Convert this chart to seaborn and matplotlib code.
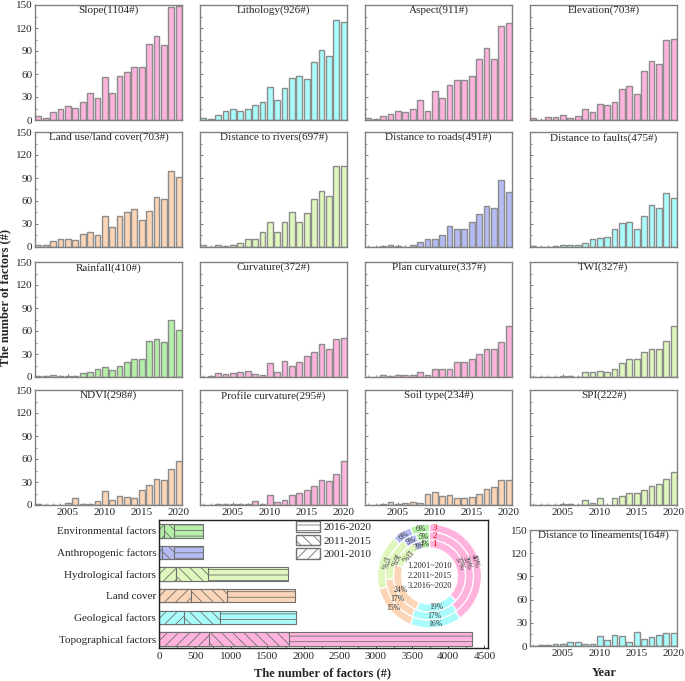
import numpy as np
import pandas as pd
import matplotlib.pyplot as plt
from matplotlib.patches import Patch
from matplotlib.ticker import MultipleLocator
import seaborn as sns

sns.set_style('ticks')
plt.rcParams['font.family'] = ['Liberation Serif', 'DejaVu Serif']
plt.rcParams['hatch.linewidth'] = 0.6
plt.rcParams['xtick.direction'] = 'in'
plt.rcParams['ytick.direction'] = 'in'

pink = '#ffb3dd'
cyan = '#aafcfc'
peach = '#fbd5b5'
lime = '#dff6bc'
green = '#b6f0a8'
blue = '#b5bcf4'

years = list(range(2001, 2021))

slope = [5, 2, 10, 14, 18, 16, 23, 35, 29, 56, 35, 58, 63, 69, 69, 99, 109, 98, 147, 149]
lithology = [3, 1, 7, 12, 14, 12, 14, 19, 24, 43, 26, 42, 55, 57, 54, 75, 91, 83, 130, 128]
aspect = [2, 1, 5, 8, 12, 11, 15, 26, 12, 38, 29, 46, 52, 52, 58, 80, 94, 79, 122, 126]
elevation = [2, 0, 4, 4, 7, 3, 5, 15, 11, 21, 19, 24, 41, 45, 34, 64, 77, 73, 105, 106]
landuse = [2, 2, 8, 10, 11, 9, 17, 20, 15, 41, 26, 40, 45, 50, 35, 47, 65, 63, 99, 91]
rivers = [3, 0, 2, 1, 3, 5, 11, 11, 19, 32, 19, 32, 45, 33, 44, 62, 73, 67, 105, 105]
roads = [0, 0, 1, 3, 1, 0, 3, 6, 11, 10, 15, 28, 24, 24, 33, 43, 53, 51, 88, 72]
faults = [1, 0, 0, 1, 2, 2, 3, 5, 11, 12, 13, 23, 31, 32, 23, 41, 55, 51, 70, 64]
rainfall = [1, 1, 2, 1, 1, 1, 5, 6, 10, 13, 9, 14, 19, 24, 23, 47, 50, 46, 74, 61]
curvature = [0, 1, 5, 4, 5, 6, 8, 4, 2, 18, 7, 21, 14, 19, 28, 33, 43, 36, 49, 51]
plan_curv = [0, 0, 2, 1, 3, 3, 3, 6, 3, 11, 10, 11, 19, 19, 23, 30, 37, 36, 46, 66]
twi = [0, 0, 0, 0, 1, 1, 0, 6, 6, 8, 7, 11, 18, 23, 23, 33, 37, 36, 47, 66]
ndvi = [1, 0, 0, 0, 3, 9, 1, 1, 5, 18, 7, 12, 10, 9, 20, 26, 34, 33, 47, 58]
profile_curv = [0, 0, 1, 1, 1, 1, 1, 5, 1, 13, 4, 6, 13, 16, 19, 25, 32, 31, 40, 58]
soil = [0, 0, 1, 4, 1, 3, 4, 3, 14, 17, 12, 13, 9, 9, 10, 14, 21, 24, 32, 33]
spi = [0, 0, 0, 0, 1, 1, 0, 6, 3, 9, 0, 9, 12, 16, 16, 19, 25, 27, 34, 43]
lineaments = [0, 1, 1, 3, 3, 5, 5, 3, 3, 13, 8, 14, 13, 5, 18, 9, 11, 14, 17, 17]

panels = [
    ('Slope(1104#)', slope, pink), ('Lithology(926#)', lithology, cyan),
    ('Aspect(911#)', aspect, pink), ('Elevation(703#)', elevation, pink),
    ('Land use/land cover(703#)', landuse, peach), ('Distance to rivers(697#)', rivers, lime),
    ('Distance to roads(491#)', roads, blue), ('Distance to faults(475#)', faults, cyan),
    ('Rainfall(410#)', rainfall, green), ('Curvature(372#)', curvature, pink),
    ('Plan curvature(337#)', plan_curv, pink), ('TWI(327#)', twi, lime),
    ('NDVI(298#)', ndvi, peach), ('Profile curvature(295#)', profile_curv, pink),
    ('Soil type(234#)', soil, peach), ('SPI(222#)', spi, lime),
]

# factor groups (stacked bars), bottom panel
groups = ['Environmental factors', 'Anthropogenic factors', 'Hydrological factors',
          'Land cover', 'Geological factors', 'Topographical factors']
group_colors = [green, blue, lime, peach, cyan, pink]
n_2001_2010 = [65, 41, 231, 447, 345, 690]
n_2011_2015 = [142, 166, 446, 492, 503, 1106]
n_2016_2020 = [401, 401, 1101, 936, 1040, 2527]

# donut shares (%), order: topo, geo, land, hydro, anthro, env
donut_colors = [pink, cyan, peach, lime, blue, green]
pct_2001_2010 = [37, 19, 24, 13, 3, 4]
pct_2011_2015 = [39, 17, 17, 16, 5, 5]
pct_2016_2020 = [40, 16, 15, 17, 6, 6]

W, H = 685, 681
fig = plt.figure(figsize=(W / 100, H / 100), dpi=100)


def px_axes(l, t, r, b):
    return fig.add_axes([l / W, 1 - b / H, (r - l) / W, (b - t) / H])


def year_panel(ax, vals, color, title, ylab=True, xlab=True):
    sns.barplot(x=years, y=vals, native_scale=True, color=color, saturation=1,
                edgecolor='#8c8c8c', linewidth=1.0, width=0.78, errorbar=None, ax=ax)
    ax.set_xlim(2000.55, 2020.45)
    ax.set_ylim(0, 150)
    ax.yaxis.set_major_locator(MultipleLocator(30))
    ax.yaxis.set_minor_locator(MultipleLocator(15))
    ax.set_xticks([2005, 2010, 2015, 2020])
    ax.xaxis.set_minor_locator(MultipleLocator(1))
    ax.tick_params(which='major', length=2.5, width=0.6, color='#666666', labelsize=8, pad=2)
    ax.tick_params(which='minor', length=1.3, width=0.5, color='#666666')
    if not ylab:
        ax.set_yticklabels([])
    if not xlab:
        ax.set_xticklabels([])
    ax.set_xlabel('')
    ax.set_ylabel('')
    for s in ax.spines.values():
        s.set_color('#808080')
        s.set_linewidth(1.0)
    ax.text(0.5, 0.995, title, transform=ax.transAxes, ha='center', va='top', fontsize=8)


col_l = [35, 200, 365, 530]
col_w = 147
row_t = [5, 132, 262, 390]
row_h = 115
for i, (title, vals, color) in enumerate(panels):
    r, c = divmod(i, 4)
    ax = px_axes(col_l[c], row_t[r], col_l[c] + col_w, row_t[r] + row_h)
    year_panel(ax, vals, color, title, ylab=(c == 0), xlab=(r == 3))

ax = px_axes(530, 530, 677, 646)
year_panel(ax, lineaments, cyan, 'Distance to lineaments(164#)')

fig.text(5 / W, 1 - 297 / H, 'The number of factors (#)', rotation=90, ha='center', va='center',
         fontsize=9, fontweight='bold')
fig.text(604 / W, 1 - 673 / H, 'Year', ha='center', va='center', fontsize=9, fontweight='bold')

# stacked horizontal bars
axh = px_axes(159, 520, 488, 648)
df = pd.DataFrame({'group': groups, 'p1': n_2001_2010, 'p2': n_2011_2015, 'p3': n_2016_2020})
df['c2'] = df.p1 + df.p2
df['c3'] = df.c2 + df.p3
pal = dict(zip(groups, group_colors))
for col, hatch in [('c3', '---'), ('c2', '\\\\\\'), ('p1', '///')]:
    n = len(axh.patches)
    sns.barplot(data=df, x=col, y='group', hue='group', palette=pal, saturation=1, legend=False,
                orient='h', width=0.62, edgecolor='#707070', linewidth=0.8, ax=axh)
    for p in axh.patches[n:]:
        p.set_hatch(hatch)
axh.set_xlim(0, 4550)
axh.set_ylim(5.42, -0.5)
axh.xaxis.set_major_locator(MultipleLocator(500))
axh.xaxis.set_minor_locator(MultipleLocator(250))
axh.tick_params(axis='x', which='major', length=2.5, width=0.6, labelsize=8, pad=3)
axh.tick_params(axis='x', which='minor', length=1.5, width=0.5)
axh.tick_params(axis='y', length=0, labelsize=8, pad=2)
axh.set_xlabel('')
axh.set_ylabel('')
for s in axh.spines.values():
    s.set_color('#222222')
    s.set_linewidth(1.0)
fig.text(323 / W, 1 - 673 / H, 'The number of factors (#)', ha='center', va='center',
         fontsize=9, fontweight='bold')

handles = [Patch(facecolor='white', edgecolor='#707070', hatch='---', label='2016-2020'),
           Patch(facecolor='white', edgecolor='#707070', hatch='\\\\\\', label='2011-2015'),
           Patch(facecolor='white', edgecolor='#707070', hatch='///', label='2001-2010')]
axh.legend(handles=handles, loc='upper left', bbox_to_anchor=(0.415, 0.99), frameon=False,
           fontsize=8, handlelength=2.2, handleheight=1.1, labelspacing=0.2,
           handletextpad=0.3, borderaxespad=0, borderpad=0)

# donut
R = 52
cx, cy = 429.5, 576
axd = px_axes(cx - 55, cy - 55, cx + 55, cy + 55)
axd.axis('off')
rings = [(1.0, pct_2016_2020, '3'), (0.846, pct_2011_2015, '2'), (0.692, pct_2001_2010, '1')]
w = 0.154
for rad, pcts, tag in rings:
    axd.pie(pcts, radius=rad, colors=donut_colors, startangle=90, counterclock=False,
            wedgeprops=dict(width=w, edgecolor='white', linewidth=0.9))
    mid_r = rad - w / 2
    cum = np.cumsum([0] + pcts[:-1])
    tot = sum(pcts)
    for k, (p0, p) in enumerate(zip(cum, pcts)):
        ang = 90 - (p0 + p / 2) / tot * 360
        th = np.deg2rad(ang)
        rot = 0
        if k == 0:
            rot = ang - 90
        elif k == 3:
            rot = ang + 90
        elif k == 4:
            rot = ang - 90
        axd.text(mid_r * np.cos(th), mid_r * np.sin(th), f'{p}%', ha='center', va='center',
                 fontsize=5.5, rotation=rot, color='#333333')
    axd.text(0.1, mid_r, tag, ha='center', va='center', fontsize=6.5, color='red')
axd.set_xlim(-55 / R, 55 / R)
axd.set_ylim(-55 / R, 55 / R)
axd.set_aspect('equal')
for j, s in enumerate(['1.2001~2010', '2.2011~2015', '3.2016~2020']):
    axd.text(0, (9.5 - 9.5 * j) / R, s, ha='center', va='center', fontsize=6, color='#222222')

fig.savefig('out.png', dpi=100)
